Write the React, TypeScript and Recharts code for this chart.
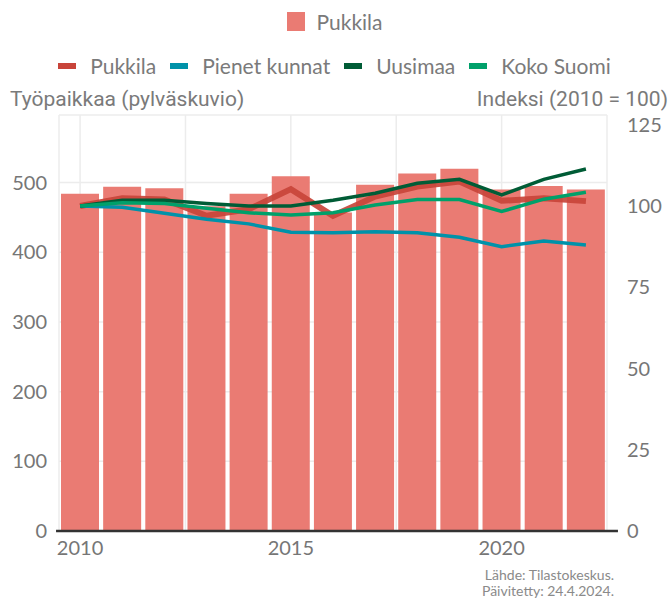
import React from "react";
import {
  ComposedChart,
  Bar,
  Line,
  XAxis,
  YAxis,
  CartesianGrid,
  ReferenceLine,
} from "recharts";

const years = [2010, 2011, 2012, 2013, 2014, 2015, 2016, 2017, 2018, 2019, 2020, 2021, 2022];
const jobsPukkila = [484, 494, 492, 466, 484, 509, 457, 497, 513, 520, 490, 495, 490];
const idxPukkila = [100, 102.4, 102, 97, 99, 105.2, 97, 102.9, 106, 107.5, 101.6, 102.4, 101.5];
const idxPienet = [100, 99.6, 97.8, 95.9, 94.5, 91.9, 91.8, 92.1, 91.8, 90.4, 87.5, 89.2, 88];
const idxUusimaa = [100, 101.8, 101.8, 100.8, 100, 100, 101.8, 103.9, 107, 108.2, 103.4, 108.2, 111.4];
const idxSuomi = [100, 101, 100.8, 99.3, 97.9, 97.2, 97.9, 100.3, 102, 102, 98.3, 102.1, 104.2];

const leftTicks = [0, 100, 200, 300, 400, 500];
const rightTicks = [0, 25, 50, 75, 100, 125];
const xTicks = [2010, 2012.5, 2015, 2017.5, 2020, 2022.5];

const BAR_COLOR = "#ea7b73";
const lineSeries = [
  { key: "pukkila", name: "Pukkila", color: "#c8443a", width: 6 },
  { key: "pienet", name: "Pienet kunnat", color: "#0092a9", width: 3.5 },
  { key: "uusimaa", name: "Uusimaa", color: "#005c36", width: 3.5 },
  { key: "suomi", name: "Koko Suomi", color: "#00a06a", width: 3.5 },
];

const data = years.map((year, i) => ({
  year,
  jobs: jobsPukkila[i],
  pukkila: idxPukkila[i],
  pienet: idxPienet[i],
  uusimaa: idxUusimaa[i],
  suomi: idxSuomi[i],
}));

const tickStyle = { fontFamily: "Lato", fontSize: 20, fill: "#767676" };

export default function App() {
  return (
    <div
      style={{
        position: "absolute",
        left: 0,
        top: 0,
        width: 669,
        height: 599,
        background: "#fff",
        fontFamily: "Lato",
        color: "#7a7a7a",
      }}
    >
      <div
        style={{
          position: "absolute",
          top: 9,
          left: 0,
          width: 669,
          display: "flex",
          justifyContent: "center",
          alignItems: "center",
          fontSize: 21,
        }}
      >
        <span style={{ width: 18, height: 19, background: BAR_COLOR, marginRight: 12 }} />
        <span>Pukkila</span>
      </div>
      <div
        style={{
          position: "absolute",
          top: 53,
          left: 0,
          width: 669,
          display: "flex",
          justifyContent: "center",
          alignItems: "center",
          fontSize: 21,
        }}
      >
        {lineSeries.map((s) => (
          <span key={s.key} style={{ display: "flex", alignItems: "center", margin: "0 7px" }}>
            <span style={{ width: 18, height: 6, background: s.color, marginRight: 14 }} />
            <span>{s.name}</span>
          </span>
        ))}
      </div>
      <div
        style={{
          position: "absolute",
          top: 87,
          left: 10,
          fontFamily: "Roboto",
          fontSize: 21,
        }}
      >
        Työpaikkaa (pylväskuvio)
      </div>
      <div
        style={{
          position: "absolute",
          top: 87,
          right: 1,
          fontFamily: "Roboto",
          fontSize: 21,
        }}
      >
        Indeksi (2010 = 100)
      </div>
      <ComposedChart
        width={669}
        height={599}
        data={data}
        margin={{ top: 115, right: 12, bottom: 38, left: 9 }}
      >
        <CartesianGrid yAxisId="left" stroke="#ececec" strokeWidth={1.5} />
        <XAxis
          dataKey="year"
          type="number"
          domain={[2009.5, 2022.5]}
          ticks={xTicks}
          tickFormatter={(v: number) => (v % 5 === 0 ? String(v) : "")}
          tickLine={false}
          axisLine={false}
          tick={tickStyle}
          tickMargin={4}
          height={30}
          allowDecimals
        />
        <YAxis
          yAxisId="left"
          domain={[0, 597]}
          ticks={leftTicks}
          tickLine={false}
          axisLine={false}
          tickSize={0}
          tickMargin={12}
          tick={tickStyle}
          width={50}
        />
        <YAxis
          yAxisId="right"
          orientation="right"
          domain={[0, 128]}
          ticks={rightTicks}
          tickLine={false}
          axisLine={false}
          tickSize={0}
          tickMargin={20}
          tick={{ ...tickStyle, textAnchor: "start" }}
          width={50}
        />
        <Bar
          yAxisId="left"
          dataKey="jobs"
          name="Pukkila"
          fill={BAR_COLOR}
          barSize={38}
          isAnimationActive={false}
        />
        {lineSeries.map((s) => (
          <Line
            key={s.key}
            yAxisId="right"
            dataKey={s.key}
            name={s.name}
            stroke={s.color}
            strokeWidth={s.width}
            strokeOpacity={s.key === "pukkila" ? 0.92 : 1}
            dot={false}
            type="linear"
            isAnimationActive={false}
          />
        ))}
        <ReferenceLine
          yAxisId="left"
          segment={[
            { x: 2009.43, y: 0 },
            { x: 2022.76, y: 0 },
          ]}
          stroke="#333"
          strokeWidth={2.5}
          ifOverflow="visible"
        />
      </ComposedChart>
      <div
        style={{
          position: "absolute",
          top: 567,
          right: 55,
          textAlign: "right",
          fontSize: 14,
          lineHeight: "16px",
          color: "#8a8a8a",
        }}
      >
        <div>Lähde: Tilastokeskus.</div>
        <div>Päivitetty: 24.4.2024.</div>
      </div>
    </div>
  );
}
